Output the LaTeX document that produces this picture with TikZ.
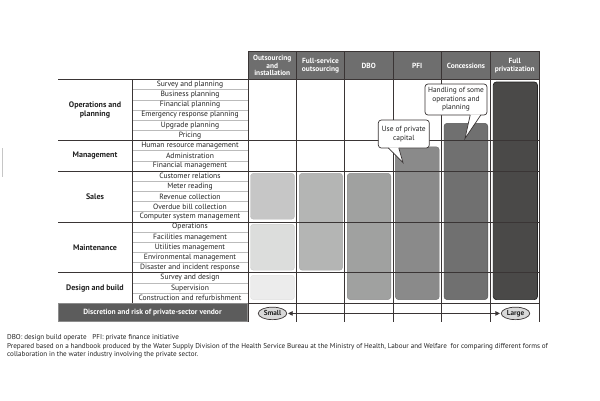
\documentclass[tikz,border=0pt]{standalone}
\usepackage{fontspec}
\setmainfont{PT Sans}
\usetikzlibrary{arrows.meta,shapes.geometric}
\definecolor{linec}{HTML}{3A3535}
\definecolor{hdrg}{HTML}{6E6E6E}
\definecolor{discg}{HTML}{5C5C5C}
\definecolor{sepg}{HTML}{BBBBBB}
\definecolor{txtc}{HTML}{222222}
\tikzset{
  gridln/.style={draw=linec, line width=0.8pt},
  sepln/.style={draw=sepg, line width=0.5pt},
  hdrcell/.style={rectangle, fill=hdrg, draw=linec, line width=0.6pt, text=white, align=center,
    font=\bfseries\fontsize{7.4}{7.6}\selectfont, minimum width=48.5pt, minimum height=27.7pt, inner sep=0pt},
  itemtxt/.style={font=\fontsize{7.6}{8}\selectfont, text=txtc, inner sep=0pt},
  cattxt/.style={font=\bfseries\fontsize{8}{9.2}\selectfont, text=txtc, align=center, inner sep=0pt},
  barbox/.style={rounded corners=3pt, line width=0.4pt},
  callbox/.style={rounded corners=3pt, draw=linec, fill=white, line width=0.7pt},
  calltxt/.style={font=\fontsize{7.4}{8.6}\selectfont, text=txtc, align=center, inner sep=0pt},
  endlbl/.style={ellipse, draw=linec, fill=gray!30, line width=0.7pt, font=\bfseries\fontsize{7.2}{7.4}\selectfont,
    text=txtc, minimum width=28.5pt, minimum height=12.5pt, inner sep=0pt},
  foot/.style={font=\fontsize{7.1}{8}\selectfont, text=txtc, anchor=west, inner sep=0pt}
}
\begin{document}
\begin{tikzpicture}[x=1pt,y=-1pt]
\useasboundingbox (0,0) rectangle (600,400);
\fill[white] (0,0) rectangle (600,400);
% small margin mark
\draw[gray!45, line width=1pt] (2,148) -- (2,177);
\def\rt{79.4}
\def\rh{10.18}
% ---------- bars ----------
\draw[barbox, fill={rgb,255:red,198;green,198;blue,198}, draw={rgb,255:red,185;green,185;blue,185}] (250.5,173.3) rectangle (294.5,219.2);
\draw[barbox, fill={rgb,255:red,220;green,221;blue,220}, draw={rgb,255:red,205;green,205;blue,205}] (250.5,224.2) rectangle (294.5,270.2);
\draw[barbox, fill={rgb,255:red,236;green,236;blue,236}, draw={rgb,255:red,225;green,225;blue,225}] (250.5,275.2) rectangle (294.5,299.6);
\draw[barbox, fill={rgb,255:red,180;green,181;blue,180}, draw={rgb,255:red,165;green,165;blue,165}] (299.2,173.3) rectangle (342.6,270.2);
\draw[barbox, fill={rgb,255:red,160;green,161;blue,160}, draw={rgb,255:red,140;green,140;blue,140}] (347.2,173.3) rectangle (390.8,299.6);
\draw[barbox, fill={rgb,255:red,138;green,138;blue,138}, draw={rgb,255:red,115;green,115;blue,115}] (395.4,146.8) rectangle (439.2,299.6);
\draw[barbox, fill={rgb,255:red,112;green,112;blue,112}, draw={rgb,255:red,85;green,85;blue,85}] (444.0,123.3) rectangle (487.8,299.6);
\draw[barbox, fill={rgb,255:red,74;green,73;blue,72}, draw={rgb,255:red,35;green,35;blue,35}, line width=0.7pt] (493.3,82.0) rectangle (537.4,299.6);
% ---------- item rows ----------
\foreach \i in {1,2,3,4,5,7,8,10,11,12,13,15,16,17,18,20,21} {
  \draw[sepln] (132,\rt+\i*\rh) -- (248,\rt+\i*\rh);
}
\foreach \t [count=\i from 0] in {Survey and planning,Business planning,Financial planning,Emergency response planning,Upgrade planning,Pricing,Human resource management,Administration,Financial management,Customer relations,Meter reading,Revenue collection,Overdue bill collection,Computer system management,Operations,Facilities management,Utilities management,Environmental management,Disaster and incident response,Survey and design,Supervision,Construction and refurbishment} {
  \node[itemtxt] (it\i) at (190,\rt+\i*\rh+0.5*\rh) {\t};
}
% category labels
\node[cattxt] (catops) at (95,\rt+3*\rh) {Operations and\\planning};
\node[cattxt] (catmgmt) at (95,\rt+7.5*\rh) {Management};
\node[cattxt] (catsales) at (95,\rt+11.5*\rh) {Sales};
\node[cattxt] (catmaint) at (95,\rt+16.5*\rh) {Maintenance};
\node[cattxt] (catdes) at (95,\rt+20.5*\rh) {Design and build};
% category lines
\foreach \i in {0,6,9,14,19,22} {
  \draw[gridln] (58,\rt+\i*\rh) -- (539,\rt+\i*\rh);
}
% vertical lines
\draw[gridln] (132,\rt) -- (132,\rt+22*\rh);
\foreach \xx in {248,296.5,344.5,393,441.5,490.5,539} {
  \draw[gridln] (\xx,51.7) -- (\xx,321.6);
}
% ---------- header ----------
\node[hdrcell] (h1) at (272.25,65.55) {Outsourcing\\and\\installation};
\node[hdrcell] (h2) at (320.5,65.55) {Full-service\\outsourcing};
\node[hdrcell] (h3) at (368.75,65.55) {DBO};
\node[hdrcell] (h4) at (417.25,65.55) {PFI};
\node[hdrcell] (h5) at (466,65.55) {Concessions};
\node[hdrcell] (h6) at (514.75,65.55) {Full\\privatization};
% ---------- discretion row ----------
\node[rectangle, fill=discg, draw={rgb,255:red,140;green,140;blue,140}, line width=0.5pt, minimum width=189pt, minimum height=18pt,
  text=white, font=\bfseries\fontsize{7.5}{8}\selectfont, inner sep=0pt] (disc) at (152.5,312.5) {Discretion and risk of private-sector vendor};
\node[endlbl] (small) at (272.5,313.4) {Small};
\node[endlbl] (large) at (515.5,313.4) {Large};
\draw[linec, line width=0.7pt, {Triangle[length=4.5pt,width=4.5pt]}-{Triangle[length=4.5pt,width=4.5pt]}] ([xshift=1pt]small.east) -- ([xshift=-1pt]large.west);
% ---------- callouts ----------
\draw[callbox] (378.3,120) rectangle (429.3,148);
\fill[white] (388.6,147.3) -- (398.6,147.3) -- (403,162.7) -- cycle;
\draw[linec, line width=0.7pt, line join=miter] (388.4,148) -- (403,162.7) -- (398.8,148);
\node[calltxt] (c1) at (403.8,134) {Use of private\\capital};
\draw[callbox] (425,84) rectangle (487,115);
\fill[white] (470.3,114.3) -- (480.7,114.3) -- (465,138.5) -- cycle;
\draw[linec, line width=0.7pt, line join=miter] (470.2,115) -- (465,138.5) -- (480.8,115);
\node[calltxt] (c2) at (456,99.5) {Handling of some\\operations and\\planning};
% ---------- footnotes ----------
\node[foot] (f1) at (7,337.5) {DBO: design build operate\hspace{0.8em}PFI: private finance initiative};
\node[foot] (f2) at (7,346.5) {Prepared based on a handbook produced by the Water Supply Division of the Health Service Bureau at the Ministry of Health, Labour and Welfare\ \ for comparing different forms of};
\node[foot] (f3) at (7,354.5) {collaboration in the water industry involving the private sector.};
\end{tikzpicture}
\end{document}
